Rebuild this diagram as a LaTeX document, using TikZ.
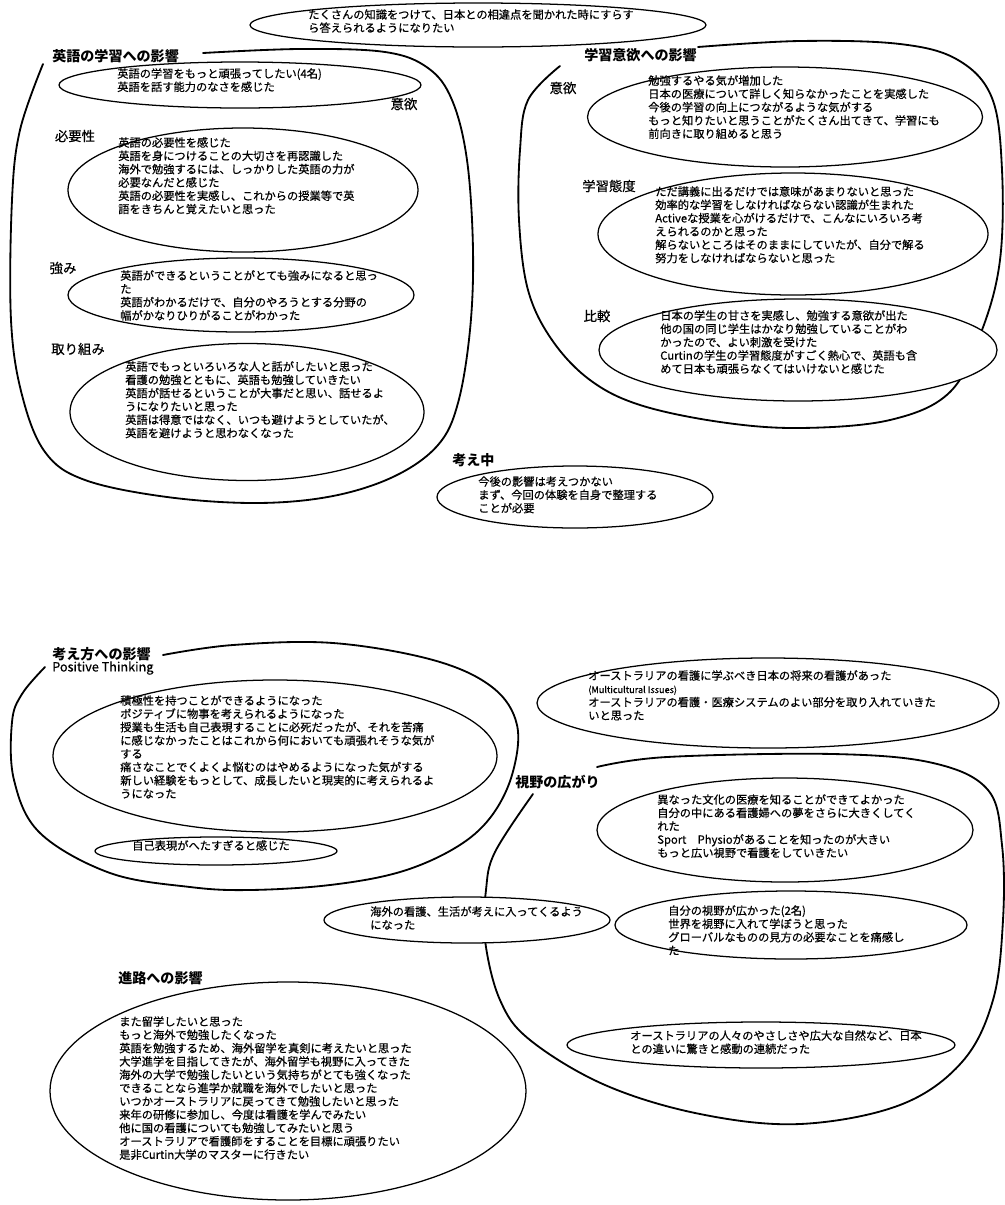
\documentclass[tikz,border=0pt]{standalone}
\usepackage{fontspec}
\usetikzlibrary{shapes.geometric}
\setmainfont{Noto Sans CJK JP}
\newfontfamily\inkfont{Noto Sans CJK JP}[FakeBold=0.5]
\newcommand\bodytext{\inkfont\fontsize{8}{9.46}\selectfont}
\newcommand\headtext{\fontsize{10}{12}\selectfont\bfseries}
\newcommand\tagtext{\inkfont\fontsize{9.5}{11}\selectfont}
\begin{document}
\begin{tikzpicture}[
    x=0.025cm, y=-0.025cm,
    oval/.style 2 args={ellipse, draw, fill=white, line width=0.9pt, inner sep=0pt,
        minimum width=#1*0.025cm, minimum height=#2*0.025cm},
    body/.style={font=\bodytext, align=left, inner sep=0pt, anchor=north west},
    head/.style={font=\headtext, inner sep=0pt, anchor=west},
    tag/.style={font=\tagtext, inner sep=0pt},
    rim/.style={line width=1.3pt, line cap=round, line join=round},
  ]
  \fill[white] (0,0) rectangle (1005,1205);
  \useasboundingbox (0,0) rectangle (1005,1205);

  % 外枠（見出しの右から一周して見出しの左下まで）
  \draw[rim] plot[smooth, tension=0.6] coordinates {(203,53) (300,49) (385,52) (428,68) (452,100)
      (467,160) (473,250) (470,330) (458,403) (438,445) (395,476) (333,496) (257,503) (167,497)
      (85,480) (45,452) (22,395) (11,320) (12,200) (20,130) (43,64)};
  \draw[rim] plot[smooth, tension=0.6] coordinates {(698,47) (800,41) (900,44) (958,60) (992,98)
      (1002,170) (1000,260) (982,330) (950,392) (890,420) (800,428) (720,422) (640,405) (590,380)
      (552,340) (528,290) (519,220) (520,150) (528,100) (560,66)};
  \draw[rim] plot[smooth, tension=0.6] coordinates {(163,655) (233,645) (333,643) (433,660) (492,687)
      (517,725) (512,775) (490,818) (455,848) (400,872) (330,885) (250,890) (190,887) (110,873)
      (40,833) (14,780) (12,722) (22,694) (45,667)};
  \draw[rim] plot[smooth, tension=0.6] coordinates {(597,767) (667,757) (833,754) (933,763) (988,790)
      (1002,845) (1003,920) (993,1000) (962,1062) (900,1105) (800,1124) (700,1114) (605,1085)
      (530,1040) (500,1000) (485,940) (486,890) (495,852) (533,794)};

  % 見出し
  \node[head] (headA) at (52,56) {英語の学習への影響};
  \node[head] (headB) at (584,55) {学習意欲への影響};
  \node[head] (headG) at (452,460) {考え中};
  \node[head] (headC) at (52,654) {考え方への影響};
  \node[head] (headE) at (515,782) {視野の広がり};
  \node[head] (headF) at (118,978) {進路への影響};
  \node[tag, anchor=west, font=\inkfont\fontsize{9}{10}\selectfont] (think) at (52,668) {Positive Thinking};

  % 小見出し
  \foreach \x/\y/\txt/\name in {404/104/意欲/tagA1, 75/136/必要性/tagA2, 63/268/強み/tagA3,
      78/349/取り組み/tagA4, 563/88/意欲/tagB1, 609/186/学習態度/tagB2, 597/316/比較/tagB3} {
    \node[tag] (\name) at (\x,\y) {\txt};
  }

  % 楕円
  \node[oval={456}{44}] (top) at (478,25) {};
  \node[oval={362}{46}] (ovA1) at (240,85) {};
  \node[oval={350}{124}] (ovA2) at (243,190) {};
  \node[oval={346}{74}] (ovA3) at (241,295) {};
  \node[oval={354}{137}] (ovA4) at (247,412) {};
  \node[oval={395}{100}] (ovB1) at (785,117) {};
  \node[oval={390}{122}] (ovB2) at (793,234) {};
  \node[oval={398}{102}] (ovB3) at (798,350) {};
  \node[oval={276}{62}] (ovG) at (575,497) {};
  \node[oval={444}{152}] (ovC1) at (275,756) {};
  \node[oval={242}{28}] (ovC2) at (216,851) {};
  \node[oval={462}{90}] (ovD) at (768,703) {};
  \node[oval={376}{104}] (ovE1) at (785,830) {};
  \node[oval={286}{46}] (ovE2) at (467,920) {};
  \node[oval={352}{68}] (ovE3) at (791,925) {};
  \node[oval={388}{46}] (ovE4) at (761,1045) {};
  \node[oval={476}{218}] (ovF) at (288,1091) {};

  % 楕円の中の文
  \node[body] (txTop) at (308,9)
    {たくさんの知識をつけて、日本との相違点を聞かれた時にすらす\\ら答えられるようになりたい};
  \node[body] (txA1) at (117,68)
    {英語の学習をもっと頑張ってしたい(4名)\\英語を話す能力のなさを感じた};
  \node[body] (txA2) at (118,137)
    {英語の必要性を感じた\\英語を身につけることの大切さを再認識した\\海外で勉強するには、しっかりした英語の力が\\%
     必要なんだと感じた\\英語の必要性を実感し、これからの授業等で英\\語をきちんと覚えたいと思った};
  \node[body] (txA3) at (120,270)
    {英語ができるということがとても強みになると思っ\\た\\英語がわかるだけで、自分のやろうとする分野の\\%
     幅がかなりひりがることがわかった};
  \node[body] (txA4) at (125,361)
    {英語でもっといろいろな人と話がしたいと思った\\看護の勉強とともに、英語も勉強していきたい\\%
     英語が話せるということが大事だと思い、話せるよ\\うになりたいと思った\\%
     英語は得意ではなく、いつも避けようとしていたが、\\英語を避けようと思わなくなった};
  \node[body] (txB1) at (648,75)
    {勉強するやる気が増加した\\日本の医療について詳しく知らなかったことを実感した\\今後の学習の向上につながるような気がする\\%
     もっと知りたいと思うことがたくさん出てきて、学習にも\\前向きに取り組めると思う};
  \node[body] (txB2) at (655,186)
    {ただ講義に出るだけでは意味があまりないと思った\\効率的な学習をしなければならない認識が生まれた\\%
     Activeな授業を心がけるだけで、こんなにいろいろ考\\えられるのかと思った\\%
     解らないところはそのままにしていたが、自分で解る\\努力をしなければならないと思った};
  \node[body] (txB3) at (660,310)
    {日本の学生の甘さを実感し、勉強する意欲が出た\\他の国の同じ学生はかなり勉強していることがわ\\%
     かったので、よい刺激を受けた\\Curtinの学生の学習態度がすごく熱心で、英語も含\\めて日本も頑張らなくてはいけないと感じた};
  \node[body] (txG) at (478,476)
    {今後の影響は考えつかない\\まず、今回の体験を自身で整理する\\ことが必要};
  \node[body] (txC1) at (120,695)
    {積極性を持つことができるようになった\\ポジティブに物事を考えられるようになった\\%
     授業も生活も自己表現することに必死だったが、それを苦痛\\に感じなかったことはこれから何においても頑張れそうな気が\\%
     する\\痛さなことでくよくよ悩むのはやめるようになった気がする\\%
     新しい経験をもっとして、成長したいと現実的に考えられるよ\\うになった};
  \node[body] (txC2) at (132,840) {自己表現がへたすぎると感じた};
  \node[body] (txD) at (588,670)
    {オーストラリアの看護に学ぶべき日本の将来の看護があった\\{\fontsize{6.5}{8}\selectfont (Multicultural Issues)}\\%
     オーストラリアの看護・医療システムのよい部分を取り入れていきた\\いと思った};
  \node[body] (txE1) at (657,794)
    {異なった文化の医療を知ることができてよかった\\自分の中にある看護婦への夢をさらに大きくしてく\\れた\\%
     Sport\quad Physioがあることを知ったのが大きい\\もっと広い視野で看護をしていきたい};
  \node[body] (txE2) at (370,906)
    {海外の看護、生活が考えに入ってくるよう\\になった};
  \node[body] (txE3) at (668,905)
    {自分の視野が広かった(2名)\\世界を視野に入れて学ぼうと思った\\グローバルなものの見方の必要なことを痛感し\\た};
  \node[body] (txE4) at (630,1030)
    {オーストラリアの人々のやさしさや広大な自然など、日本\\との違いに驚きと感動の連続だった};
  \node[body] (txF) at (119,1016)
    {また留学したいと思った\\もっと海外で勉強したくなった\\英語を勉強するため、海外留学を真剣に考えたいと思った\\%
     大学進学を目指してきたが、海外留学も視野に入ってきた\\海外の大学で勉強したいという気持ちがとても強くなった\\%
     できることなら進学か就職を海外でしたいと思った\\いつかオーストラリアに戻ってきて勉強したいと思った\\%
     来年の研修に参加し、今度は看護を学んでみたい\\他に国の看護についても勉強してみたいと思う\\%
     オーストラリアで看護師をすることを目標に頑張りたい\\是非Curtin大学のマスターに行きたい};
\end{tikzpicture}
\end{document}
